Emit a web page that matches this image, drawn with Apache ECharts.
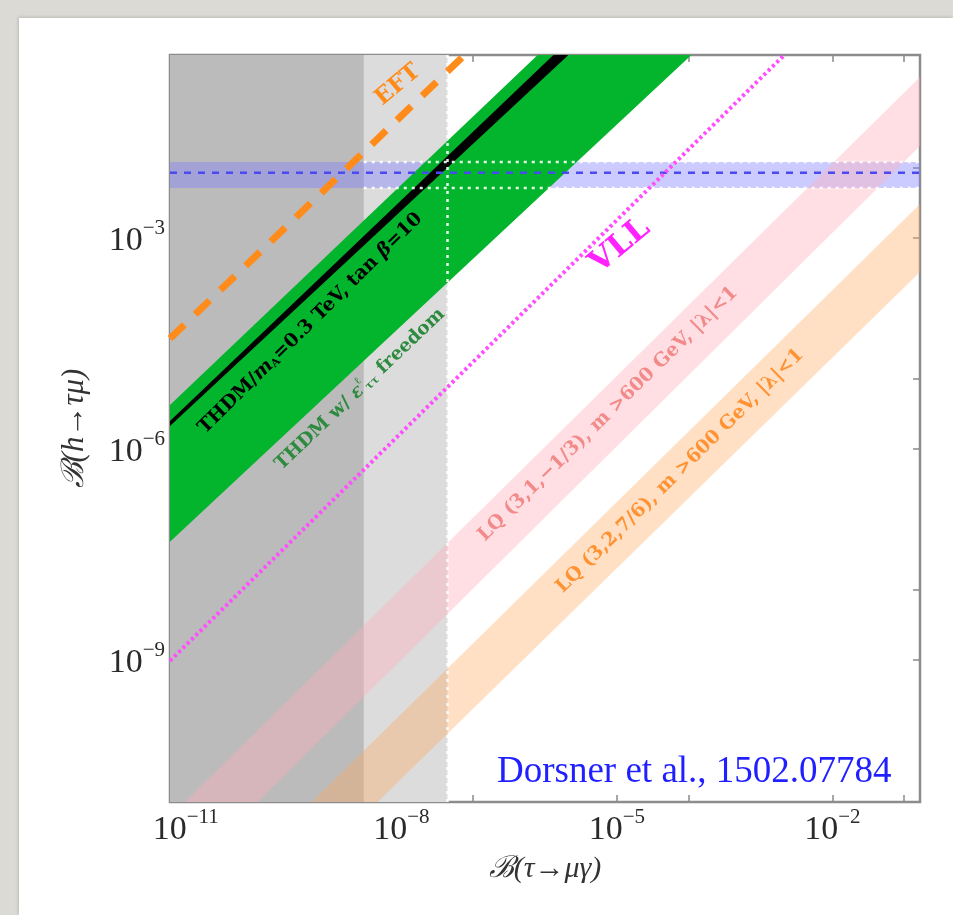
<!DOCTYPE html>
<html>
<head>
<meta charset="utf-8">
<script src="https://cdn.jsdelivr.net/npm/echarts@6/dist/echarts.min.js"></script>
<style>
  html, body { margin: 0; padding: 0; width: 953px; height: 915px; overflow: hidden; background: #dcdad4; }
  #panel { position: absolute; left: 19px; top: 18px; width: 934px; height: 897px; background: #ffffff;
           box-shadow: -1px -1px 3px rgba(0,0,0,0.15); }
  #chart { position: absolute; left: 0; top: 0; width: 953px; height: 915px; }
</style>
</head>
<body>
<div id="panel"></div>
<div id="chart"></div>
<script>
// ---- axis ranges and ticks ----
const X_RANGE = [6.03e-12, 0.166];          // B(tau -> mu gamma)
const Y_RANGE = [9.55e-12, 0.398];          // B(h -> tau mu)
const xTickLabelValues = [1e-11, 1e-8, 1e-5, 1e-2];
const xTickValues = [1e-11, 1e-10, 1e-8, 1e-7, 1e-5, 1e-4, 1e-2, 1e-1];
const yTickLabelValues = [1e-9, 1e-6, 1e-3];
const yTickValues = [1e-9, 1e-8, 1e-6, 1e-5, 1e-3, 1e-2];

// ---- excluded / probed regions of B(tau -> mu gamma) ----
const futureReach = 3.0e-9;
const currentLimit = 4.4e-8;

// ---- B(h -> tau mu) measurement ----
const hTauMuCentral = 8.4e-3;
const hTauMuBand = [5.1e-3, 1.2e-2];

// ---- model bands: each edge given by two points [B(tau->mu gamma), B(h->tau mu)] ----
const thdmFreeUpper = [[6.03e-12, 4.2e-6], [7.9e-7, 0.398]];
const thdmFreeLower = [[6.03e-12, 4.8e-8], [1.09e-4, 0.398]];
const thdmMAUpper   = [[6.03e-12, 2.5e-6], [1.31e-6, 0.398]];
const thdmMALower   = [[6.03e-12, 2.12e-6], [2.12e-6, 0.398]];
const lq1Upper      = [[9.7e-12, 9.55e-12], [0.166, 0.194]];
const lq1Lower      = [[1.0e-10, 9.55e-12], [0.166, 0.0202]];
const lq2Upper      = [[5.65e-10, 9.55e-12], [0.166, 3.03e-3]];
const lq2Lower      = [[4.68e-9, 9.55e-12], [0.166, 3.27e-4]];

// ---- model lines ----
const eftLine = [[6.03e-12, 3.7e-5], [7.6e-8, 0.398]];
const vllLine = [[6.03e-12, 9.7e-10], [2.14e-3, 0.398]];

const SERIF = '"Liberation Serif", "Times New Roman", serif';
const LABEL_SERIF = '"DejaVu Serif", serif';

function bandPoints(upper, lower) {
  return upper.concat(lower.slice().reverse());
}
function rectPoints(x0, x1, y0, y1) {
  return [[x0, y0], [x1, y0], [x1, y1], [x0, y1]];
}

function polygonSeries(name, pts, style) {
  return {
    type: 'custom', name, coordinateSystem: 'cartesian2d', clip: true, silent: true,
    data: pts, encode: { x: 0, y: 1 },
    renderItem(params, api) {
      if (params.dataIndex !== 0) return null;
      const points = pts.map(p => api.coord(p));
      return { type: 'polygon', shape: { points }, style };
    }
  };
}

function lineSeries(name, pts, lineStyle) {
  return {
    type: 'line', name, data: pts, symbol: 'none', silent: true, clip: true,
    animation: false, lineStyle
  };
}

function powLabel(v) {
  const e = Math.round(Math.log10(v));
  return '{b|10}{s|' + (e < 0 ? '\u2212' + (-e) : e) + '}';
}
const powRich = {
  b: { fontFamily: SERIF, fontSize: 34, color: '#2a2a2a', lineHeight: 40, verticalAlign: 'bottom' },
  s: { fontFamily: SERIF, fontSize: 21, color: '#2a2a2a', lineHeight: 18, verticalAlign: 'top' }
};

const tickStyle = { inside: true, length: 7, lineStyle: { color: '#8a8a8a', width: 1.5 } };

const series = [
  polygonSeries('current limit', rectPoints(X_RANGE[0], currentLimit, Y_RANGE[0], Y_RANGE[1]),
    { fill: '#dcdcdc' }),
  polygonSeries('future reach', rectPoints(X_RANGE[0], futureReach, Y_RANGE[0], Y_RANGE[1]),
    { fill: '#bbbbbb' }),
  polygonSeries('h->tau mu band', rectPoints(X_RANGE[0], X_RANGE[1], hTauMuBand[0], hTauMuBand[1]),
    { fill: 'rgba(125,125,255,0.40)' }),
  lineSeries('h->tau mu central', [[X_RANGE[0], hTauMuCentral], [X_RANGE[1], hTauMuCentral]],
    { color: '#4a4af0', width: 2.5, type: [7, 7] }),
  polygonSeries('LQ (3,1,-1/3)', bandPoints(lq1Upper, lq1Lower), { fill: 'rgba(255,175,186,0.40)' }),
  polygonSeries('LQ (3,2,7/6)', bandPoints(lq2Upper, lq2Lower), { fill: 'rgba(255,170,95,0.36)' }),
  polygonSeries('THDM free', bandPoints(thdmFreeUpper, thdmFreeLower), { fill: '#03b52c' }),
  polygonSeries('THDM mA', bandPoints(thdmMAUpper, thdmMALower), { fill: '#000000' }),
  lineSeries('limit edge', [[currentLimit, Y_RANGE[0]], [currentLimit, Y_RANGE[1]]],
    { color: 'rgba(255,255,255,0.9)', width: 2.5, type: [3, 5] }),
  lineSeries('band low edge', [[futureReach, hTauMuBand[0]], [X_RANGE[1], hTauMuBand[0]]],
    { color: 'rgba(255,255,255,0.9)', width: 2.5, type: [3, 5] }),
  lineSeries('band high edge', [[futureReach, hTauMuBand[1]], [X_RANGE[1], hTauMuBand[1]]],
    { color: 'rgba(255,255,255,0.9)', width: 2.5, type: [3, 5] }),
  lineSeries('EFT', eftLine, { color: '#ff8c1a', width: 7, type: [20, 15], cap: 'butt' }),
  lineSeries('VLL', vllLine, { color: '#ff4dff', width: 4, type: [3, 3], cap: 'butt' })
];

function rotatedLabel(x, y, deg, text, style, rich) {
  return {
    type: 'text', x, y, rotation: deg * Math.PI / 180, z: 100, silent: true,
    style: Object.assign({
      text, rich: rich || {}, align: 'center', verticalAlign: 'middle',
      textAlign: 'center', textVerticalAlign: 'middle',
      fontFamily: LABEL_SERIF, fontWeight: 'bold'
    }, style)
  };
}

function richSet(color, size) {
  return {
    t: { fontFamily: LABEL_SERIF, fontWeight: 'bold', fontSize: size, color, lineHeight: size + 4, verticalAlign: 'bottom' },
    i: { fontFamily: LABEL_SERIF, fontWeight: 'bold', fontStyle: 'italic', fontSize: size, color, lineHeight: size + 4, verticalAlign: 'bottom' },
    sup: { fontFamily: LABEL_SERIF, fontWeight: 'bold', fontSize: Math.round(size * 0.6), color, lineHeight: size, verticalAlign: 'top' },
    sub: { fontFamily: LABEL_SERIF, fontWeight: 'bold', fontSize: Math.round(size * 0.6), color, lineHeight: Math.round(size * 0.55), verticalAlign: 'bottom' }
  };
}

const graphics = [
  rotatedLabel(398, 85, 40, 'EFT', { fill: '#ff8c1a', fontSize: 23 }),
  rotatedLabel(309, 322, 44.6,
    '{t|THDM/}{i|m}{sub|A}{t|=0.3 TeV, tan }{i|\u03b2}{t|=10}',
    { fill: '#000000', fontSize: 19 }, richSet('#000000', 19)),
  rotatedLabel(359, 388, 43.5,
    '{t|THDM w/ }{i|\u03b5}{sup|\u2113}{sub|\u03c4\u03c4}{t| freedom}',
    { fill: '#2d8a3e', fontSize: 18.5 }, richSet('#2d8a3e', 18.5)),
  rotatedLabel(620, 246, 40, 'VLL', { fill: '#ff22ff', fontSize: 31 }),
  rotatedLabel(608, 414, 44.4, 'LQ (3,1,\u22121/3), m >600 GeV, |\u03bb|<1', { fill: '#f28a8a', fontSize: 19 }),
  rotatedLabel(680, 471, 44.6, 'LQ (3,2,7/6), m >600 GeV, |\u03bb|<1', { fill: '#ff9233', fontSize: 19 }),
  {
    type: 'text', x: 497, y: 772, z: 100, silent: true,
    style: { text: 'Dorsner et al., 1502.07784', fill: '#1f1fff', fontFamily: SERIF, fontSize: 37,
             align: 'left', verticalAlign: 'middle', textAlign: 'left', textVerticalAlign: 'middle' }
  }
];

const chart = echarts.init(document.getElementById('chart'), null, { renderer: 'canvas' });
chart.setOption({
  animation: false,
  backgroundColor: 'transparent',
  grid: {
    left: 170, right: 33, top: 55, bottom: 113,
    show: true, backgroundColor: '#ffffff', borderColor: '#8c8c8c', borderWidth: 2.5,
    containLabel: false, outerBoundsMode: 'none'
  },
  xAxis: [
    {
      type: 'log', logBase: 10, min: X_RANGE[0], max: X_RANGE[1], position: 'bottom',
      axisLine: { show: false }, splitLine: { show: false },
      axisTick: Object.assign({ customValues: xTickValues }, tickStyle),
      axisLabel: { customValues: xTickLabelValues, formatter: powLabel, rich: powRich, margin: 5 },
      name: '\u212c(\u03c4\u2192\u03bc\u03b3)', nameLocation: 'middle', nameGap: 52,
      nameTextStyle: { fontFamily: SERIF, fontStyle: 'italic', fontSize: 30, color: '#333' }
    },
    {
      type: 'log', logBase: 10, min: X_RANGE[0], max: X_RANGE[1], position: 'top',
      axisLine: { show: false }, splitLine: { show: false },
      axisTick: Object.assign({ customValues: xTickValues }, tickStyle),
      axisLabel: { show: false }
    }
  ],
  yAxis: [
    {
      type: 'log', logBase: 10, min: Y_RANGE[0], max: Y_RANGE[1], position: 'left',
      axisLine: { show: false }, splitLine: { show: false },
      axisTick: Object.assign({ customValues: yTickValues }, tickStyle),
      axisLabel: { customValues: yTickLabelValues, formatter: powLabel, rich: powRich, margin: 5 },
      name: '\u212c(h\u2192\u03c4\u03bc)', nameLocation: 'middle', nameGap: 80, nameRotate: 90,
      nameTextStyle: { fontFamily: SERIF, fontStyle: 'italic', fontSize: 31, color: '#333' }
    },
    {
      type: 'log', logBase: 10, min: Y_RANGE[0], max: Y_RANGE[1], position: 'right',
      axisLine: { show: false }, splitLine: { show: false },
      axisTick: Object.assign({ customValues: yTickValues }, tickStyle),
      axisLabel: { show: false }
    }
  ],
  series,
  graphic: graphics
});
</script>
</body>
</html>
